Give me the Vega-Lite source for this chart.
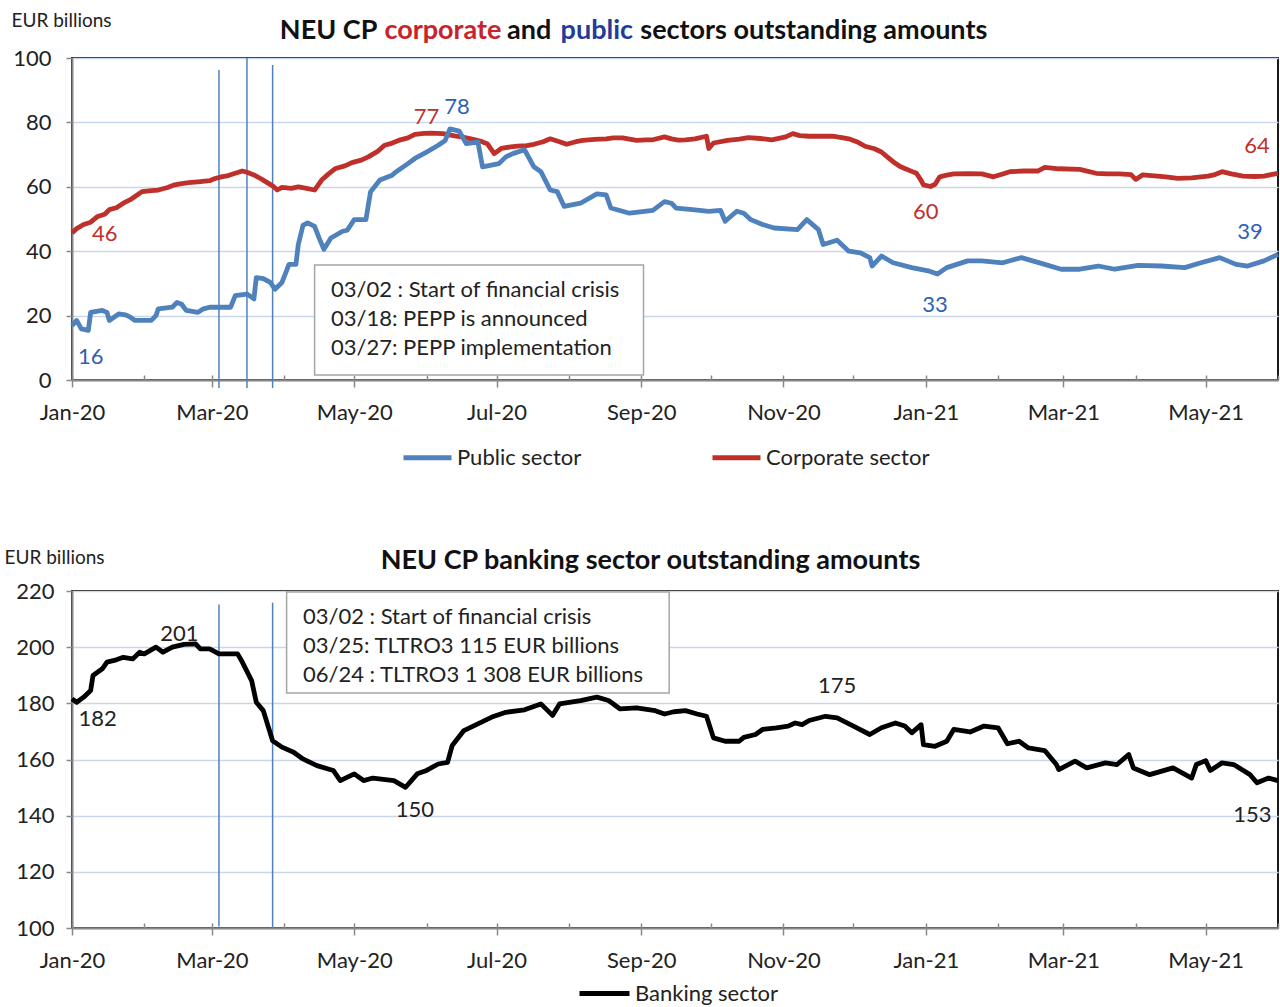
{
  "$schema": "https://vega.github.io/schema/vega-lite/v6.json",
  "background": "white",
  "padding": {"left": 3, "top": 10, "right": 0, "bottom": 0},
  "spacing": 72,
  "bounds": "full",
  "align": "all",
  "config": {
    "font": "Lato",
    "view": {"stroke": "#1a1a1a", "strokeWidth": 2},
    "text": {"font": "Lato"},
    "axis": {"labelFont": "Lato", "titleFont": "Lato"}
  },
  "resolve": {"scale": {"color": "independent", "x": "independent", "y": "independent"}, "legend": {"color": "independent"}},
  "datasets": {
    "top_series": [
      {"date":"2020-01-01","series":"Corporate sector","value":45.7},
      {"date":"2020-01-03","series":"Corporate sector","value":47.0},
      {"date":"2020-01-06","series":"Corporate sector","value":48.3},
      {"date":"2020-01-09","series":"Corporate sector","value":49.0},
      {"date":"2020-01-12","series":"Corporate sector","value":50.8},
      {"date":"2020-01-15","series":"Corporate sector","value":51.5},
      {"date":"2020-01-17","series":"Corporate sector","value":52.9},
      {"date":"2020-01-20","series":"Corporate sector","value":53.5},
      {"date":"2020-01-23","series":"Corporate sector","value":54.9},
      {"date":"2020-01-26","series":"Corporate sector","value":56.0},
      {"date":"2020-01-28","series":"Corporate sector","value":57.0},
      {"date":"2020-01-31","series":"Corporate sector","value":58.5},
      {"date":"2020-02-04","series":"Corporate sector","value":58.8},
      {"date":"2020-02-07","series":"Corporate sector","value":59.0},
      {"date":"2020-02-11","series":"Corporate sector","value":59.8},
      {"date":"2020-02-14","series":"Corporate sector","value":60.6},
      {"date":"2020-02-17","series":"Corporate sector","value":61.0},
      {"date":"2020-02-20","series":"Corporate sector","value":61.3},
      {"date":"2020-02-25","series":"Corporate sector","value":61.6},
      {"date":"2020-02-29","series":"Corporate sector","value":61.9},
      {"date":"2020-03-02","series":"Corporate sector","value":62.5},
      {"date":"2020-03-05","series":"Corporate sector","value":63.1},
      {"date":"2020-03-08","series":"Corporate sector","value":63.5},
      {"date":"2020-03-10","series":"Corporate sector","value":64.0},
      {"date":"2020-03-14","series":"Corporate sector","value":64.9},
      {"date":"2020-03-16","series":"Corporate sector","value":64.5},
      {"date":"2020-03-19","series":"Corporate sector","value":63.7},
      {"date":"2020-03-22","series":"Corporate sector","value":62.5},
      {"date":"2020-03-24","series":"Corporate sector","value":61.6},
      {"date":"2020-03-27","series":"Corporate sector","value":60.3},
      {"date":"2020-03-29","series":"Corporate sector","value":59.0},
      {"date":"2020-03-31","series":"Corporate sector","value":59.8},
      {"date":"2020-04-04","series":"Corporate sector","value":59.5},
      {"date":"2020-04-07","series":"Corporate sector","value":60.0},
      {"date":"2020-04-10","series":"Corporate sector","value":59.6},
      {"date":"2020-04-14","series":"Corporate sector","value":59.0},
      {"date":"2020-04-17","series":"Corporate sector","value":62.1},
      {"date":"2020-04-20","series":"Corporate sector","value":64.0},
      {"date":"2020-04-23","series":"Corporate sector","value":65.7},
      {"date":"2020-04-27","series":"Corporate sector","value":66.5},
      {"date":"2020-04-30","series":"Corporate sector","value":67.5},
      {"date":"2020-05-04","series":"Corporate sector","value":68.3},
      {"date":"2020-05-07","series":"Corporate sector","value":69.3},
      {"date":"2020-05-11","series":"Corporate sector","value":71.0},
      {"date":"2020-05-14","series":"Corporate sector","value":72.9},
      {"date":"2020-05-17","series":"Corporate sector","value":73.5},
      {"date":"2020-05-20","series":"Corporate sector","value":74.4},
      {"date":"2020-05-24","series":"Corporate sector","value":75.2},
      {"date":"2020-05-27","series":"Corporate sector","value":76.3},
      {"date":"2020-05-31","series":"Corporate sector","value":76.6},
      {"date":"2020-06-03","series":"Corporate sector","value":76.7},
      {"date":"2020-06-08","series":"Corporate sector","value":76.5},
      {"date":"2020-06-13","series":"Corporate sector","value":75.8},
      {"date":"2020-06-16","series":"Corporate sector","value":75.5},
      {"date":"2020-06-20","series":"Corporate sector","value":74.9},
      {"date":"2020-06-24","series":"Corporate sector","value":74.2},
      {"date":"2020-06-27","series":"Corporate sector","value":73.4},
      {"date":"2020-06-30","series":"Corporate sector","value":70.3},
      {"date":"2020-07-03","series":"Corporate sector","value":71.9},
      {"date":"2020-07-07","series":"Corporate sector","value":72.4},
      {"date":"2020-07-10","series":"Corporate sector","value":72.6},
      {"date":"2020-07-14","series":"Corporate sector","value":72.8},
      {"date":"2020-07-17","series":"Corporate sector","value":73.2},
      {"date":"2020-07-21","series":"Corporate sector","value":74.0},
      {"date":"2020-07-24","series":"Corporate sector","value":74.9},
      {"date":"2020-07-28","series":"Corporate sector","value":74.0},
      {"date":"2020-07-31","series":"Corporate sector","value":73.2},
      {"date":"2020-08-04","series":"Corporate sector","value":74.0},
      {"date":"2020-08-07","series":"Corporate sector","value":74.4},
      {"date":"2020-08-12","series":"Corporate sector","value":74.7},
      {"date":"2020-08-17","series":"Corporate sector","value":74.9},
      {"date":"2020-08-20","series":"Corporate sector","value":75.2},
      {"date":"2020-08-24","series":"Corporate sector","value":75.2},
      {"date":"2020-08-30","series":"Corporate sector","value":74.4},
      {"date":"2020-09-03","series":"Corporate sector","value":74.6},
      {"date":"2020-09-06","series":"Corporate sector","value":74.6},
      {"date":"2020-09-11","series":"Corporate sector","value":75.5},
      {"date":"2020-09-14","series":"Corporate sector","value":74.9},
      {"date":"2020-09-17","series":"Corporate sector","value":74.5},
      {"date":"2020-09-20","series":"Corporate sector","value":74.6},
      {"date":"2020-09-24","series":"Corporate sector","value":74.9},
      {"date":"2020-09-29","series":"Corporate sector","value":75.7},
      {"date":"2020-09-30","series":"Corporate sector","value":71.9},
      {"date":"2020-10-02","series":"Corporate sector","value":73.6},
      {"date":"2020-10-08","series":"Corporate sector","value":74.4},
      {"date":"2020-10-13","series":"Corporate sector","value":74.8},
      {"date":"2020-10-17","series":"Corporate sector","value":75.3},
      {"date":"2020-10-22","series":"Corporate sector","value":75.0},
      {"date":"2020-10-27","series":"Corporate sector","value":74.6},
      {"date":"2020-11-02","series":"Corporate sector","value":75.5},
      {"date":"2020-11-05","series":"Corporate sector","value":76.5},
      {"date":"2020-11-08","series":"Corporate sector","value":75.9},
      {"date":"2020-11-12","series":"Corporate sector","value":75.7},
      {"date":"2020-11-17","series":"Corporate sector","value":75.7},
      {"date":"2020-11-22","series":"Corporate sector","value":75.7},
      {"date":"2020-11-26","series":"Corporate sector","value":75.3},
      {"date":"2020-11-29","series":"Corporate sector","value":74.9},
      {"date":"2020-12-03","series":"Corporate sector","value":73.8},
      {"date":"2020-12-06","series":"Corporate sector","value":72.6},
      {"date":"2020-12-10","series":"Corporate sector","value":71.8},
      {"date":"2020-12-13","series":"Corporate sector","value":70.8},
      {"date":"2020-12-16","series":"Corporate sector","value":69.0},
      {"date":"2020-12-18","series":"Corporate sector","value":67.8},
      {"date":"2020-12-21","series":"Corporate sector","value":66.3},
      {"date":"2020-12-23","series":"Corporate sector","value":65.7},
      {"date":"2020-12-26","series":"Corporate sector","value":64.8},
      {"date":"2020-12-28","series":"Corporate sector","value":64.2},
      {"date":"2020-12-30","series":"Corporate sector","value":62.0},
      {"date":"2020-12-31","series":"Corporate sector","value":60.6},
      {"date":"2021-01-03","series":"Corporate sector","value":60.1},
      {"date":"2021-01-05","series":"Corporate sector","value":60.8},
      {"date":"2021-01-07","series":"Corporate sector","value":63.1},
      {"date":"2021-01-10","series":"Corporate sector","value":63.6},
      {"date":"2021-01-13","series":"Corporate sector","value":64.0},
      {"date":"2021-01-19","series":"Corporate sector","value":64.1},
      {"date":"2021-01-25","series":"Corporate sector","value":64.0},
      {"date":"2021-01-30","series":"Corporate sector","value":63.1},
      {"date":"2021-02-03","series":"Corporate sector","value":64.0},
      {"date":"2021-02-06","series":"Corporate sector","value":64.7},
      {"date":"2021-02-12","series":"Corporate sector","value":64.9},
      {"date":"2021-02-18","series":"Corporate sector","value":64.9},
      {"date":"2021-02-21","series":"Corporate sector","value":66.0},
      {"date":"2021-02-27","series":"Corporate sector","value":65.6},
      {"date":"2021-03-08","series":"Corporate sector","value":65.4},
      {"date":"2021-03-15","series":"Corporate sector","value":64.2},
      {"date":"2021-03-20","series":"Corporate sector","value":64.0},
      {"date":"2021-03-25","series":"Corporate sector","value":64.0},
      {"date":"2021-03-30","series":"Corporate sector","value":63.8},
      {"date":"2021-04-01","series":"Corporate sector","value":62.3},
      {"date":"2021-04-04","series":"Corporate sector","value":63.7},
      {"date":"2021-04-09","series":"Corporate sector","value":63.4},
      {"date":"2021-04-14","series":"Corporate sector","value":63.1},
      {"date":"2021-04-19","series":"Corporate sector","value":62.6},
      {"date":"2021-04-25","series":"Corporate sector","value":62.8},
      {"date":"2021-05-02","series":"Corporate sector","value":63.3},
      {"date":"2021-05-05","series":"Corporate sector","value":63.8},
      {"date":"2021-05-08","series":"Corporate sector","value":64.7},
      {"date":"2021-05-12","series":"Corporate sector","value":64.0},
      {"date":"2021-05-17","series":"Corporate sector","value":63.3},
      {"date":"2021-05-22","series":"Corporate sector","value":63.2},
      {"date":"2021-05-26","series":"Corporate sector","value":63.3},
      {"date":"2021-05-29","series":"Corporate sector","value":63.8},
      {"date":"2021-06-01","series":"Corporate sector","value":64.2},
      {"date":"2020-01-01","series":"Public sector","value":16.9},
      {"date":"2020-01-03","series":"Public sector","value":18.5},
      {"date":"2020-01-05","series":"Public sector","value":15.9},
      {"date":"2020-01-08","series":"Public sector","value":15.4},
      {"date":"2020-01-09","series":"Public sector","value":21.0},
      {"date":"2020-01-14","series":"Public sector","value":21.6},
      {"date":"2020-01-16","series":"Public sector","value":21.0},
      {"date":"2020-01-17","series":"Public sector","value":18.5},
      {"date":"2020-01-21","series":"Public sector","value":20.5},
      {"date":"2020-01-24","series":"Public sector","value":20.2},
      {"date":"2020-01-26","series":"Public sector","value":19.5},
      {"date":"2020-01-28","series":"Public sector","value":18.5},
      {"date":"2020-02-04","series":"Public sector","value":18.5},
      {"date":"2020-02-06","series":"Public sector","value":20.0},
      {"date":"2020-02-07","series":"Public sector","value":22.1},
      {"date":"2020-02-13","series":"Public sector","value":22.6},
      {"date":"2020-02-15","series":"Public sector","value":24.1},
      {"date":"2020-02-17","series":"Public sector","value":23.5},
      {"date":"2020-02-19","series":"Public sector","value":21.6},
      {"date":"2020-02-24","series":"Public sector","value":21.0},
      {"date":"2020-02-26","series":"Public sector","value":22.0},
      {"date":"2020-02-29","series":"Public sector","value":22.6},
      {"date":"2020-03-09","series":"Public sector","value":22.6},
      {"date":"2020-03-11","series":"Public sector","value":26.2},
      {"date":"2020-03-16","series":"Public sector","value":26.7},
      {"date":"2020-03-19","series":"Public sector","value":25.2},
      {"date":"2020-03-20","series":"Public sector","value":31.8},
      {"date":"2020-03-23","series":"Public sector","value":31.5},
      {"date":"2020-03-26","series":"Public sector","value":30.3},
      {"date":"2020-03-28","series":"Public sector","value":28.2},
      {"date":"2020-03-31","series":"Public sector","value":30.3},
      {"date":"2020-04-02","series":"Public sector","value":34.0},
      {"date":"2020-04-03","series":"Public sector","value":35.9},
      {"date":"2020-04-06","series":"Public sector","value":35.9},
      {"date":"2020-04-07","series":"Public sector","value":42.0},
      {"date":"2020-04-09","series":"Public sector","value":48.0},
      {"date":"2020-04-11","series":"Public sector","value":48.8},
      {"date":"2020-04-14","series":"Public sector","value":47.7},
      {"date":"2020-04-16","series":"Public sector","value":44.0},
      {"date":"2020-04-18","series":"Public sector","value":40.6},
      {"date":"2020-04-21","series":"Public sector","value":44.1},
      {"date":"2020-04-26","series":"Public sector","value":46.2},
      {"date":"2020-04-28","series":"Public sector","value":46.5},
      {"date":"2020-05-01","series":"Public sector","value":49.8},
      {"date":"2020-05-06","series":"Public sector","value":49.8},
      {"date":"2020-05-08","series":"Public sector","value":58.5},
      {"date":"2020-05-12","series":"Public sector","value":62.1},
      {"date":"2020-05-17","series":"Public sector","value":63.5},
      {"date":"2020-05-19","series":"Public sector","value":64.7},
      {"date":"2020-05-24","series":"Public sector","value":67.2},
      {"date":"2020-05-27","series":"Public sector","value":68.8},
      {"date":"2020-06-01","series":"Public sector","value":70.8},
      {"date":"2020-06-06","series":"Public sector","value":72.9},
      {"date":"2020-06-09","series":"Public sector","value":74.4},
      {"date":"2020-06-11","series":"Public sector","value":78.0},
      {"date":"2020-06-15","series":"Public sector","value":77.3},
      {"date":"2020-06-18","series":"Public sector","value":73.4},
      {"date":"2020-06-23","series":"Public sector","value":73.9},
      {"date":"2020-06-25","series":"Public sector","value":66.2},
      {"date":"2020-07-02","series":"Public sector","value":67.2},
      {"date":"2020-07-05","series":"Public sector","value":69.3},
      {"date":"2020-07-08","series":"Public sector","value":70.3},
      {"date":"2020-07-13","series":"Public sector","value":71.5},
      {"date":"2020-07-17","series":"Public sector","value":66.2},
      {"date":"2020-07-20","series":"Public sector","value":64.7},
      {"date":"2020-07-24","series":"Public sector","value":59.0},
      {"date":"2020-07-27","series":"Public sector","value":58.5},
      {"date":"2020-07-30","series":"Public sector","value":53.9},
      {"date":"2020-08-06","series":"Public sector","value":54.9},
      {"date":"2020-08-13","series":"Public sector","value":57.8},
      {"date":"2020-08-17","series":"Public sector","value":57.5},
      {"date":"2020-08-19","series":"Public sector","value":53.4},
      {"date":"2020-08-27","series":"Public sector","value":51.8},
      {"date":"2020-09-06","series":"Public sector","value":52.7},
      {"date":"2020-09-11","series":"Public sector","value":55.4},
      {"date":"2020-09-14","series":"Public sector","value":54.9},
      {"date":"2020-09-16","series":"Public sector","value":53.4},
      {"date":"2020-09-23","series":"Public sector","value":52.9},
      {"date":"2020-09-30","series":"Public sector","value":52.4},
      {"date":"2020-10-05","series":"Public sector","value":52.7},
      {"date":"2020-10-07","series":"Public sector","value":49.3},
      {"date":"2020-10-12","series":"Public sector","value":52.4},
      {"date":"2020-10-15","series":"Public sector","value":51.8},
      {"date":"2020-10-18","series":"Public sector","value":49.8},
      {"date":"2020-10-23","series":"Public sector","value":48.3},
      {"date":"2020-10-28","series":"Public sector","value":47.2},
      {"date":"2020-11-07","series":"Public sector","value":46.7},
      {"date":"2020-11-11","series":"Public sector","value":49.8},
      {"date":"2020-11-16","series":"Public sector","value":46.7},
      {"date":"2020-11-18","series":"Public sector","value":42.1},
      {"date":"2020-11-24","series":"Public sector","value":43.4},
      {"date":"2020-11-29","series":"Public sector","value":40.0},
      {"date":"2020-12-04","series":"Public sector","value":39.5},
      {"date":"2020-12-08","series":"Public sector","value":38.0},
      {"date":"2020-12-09","series":"Public sector","value":35.4},
      {"date":"2020-12-13","series":"Public sector","value":38.5},
      {"date":"2020-12-18","series":"Public sector","value":36.4},
      {"date":"2020-12-26","series":"Public sector","value":34.9},
      {"date":"2021-01-02","series":"Public sector","value":33.9},
      {"date":"2021-01-06","series":"Public sector","value":32.9},
      {"date":"2021-01-10","series":"Public sector","value":34.9},
      {"date":"2021-01-19","series":"Public sector","value":37.0},
      {"date":"2021-01-25","series":"Public sector","value":37.0},
      {"date":"2021-02-03","series":"Public sector","value":36.4},
      {"date":"2021-02-11","series":"Public sector","value":38.0},
      {"date":"2021-02-21","series":"Public sector","value":35.9},
      {"date":"2021-02-28","series":"Public sector","value":34.4},
      {"date":"2021-03-08","series":"Public sector","value":34.4},
      {"date":"2021-03-16","series":"Public sector","value":35.4},
      {"date":"2021-03-23","series":"Public sector","value":34.4},
      {"date":"2021-04-02","series":"Public sector","value":35.6},
      {"date":"2021-04-12","series":"Public sector","value":35.4},
      {"date":"2021-04-22","series":"Public sector","value":34.9},
      {"date":"2021-04-29","series":"Public sector","value":36.4},
      {"date":"2021-05-07","series":"Public sector","value":38.0},
      {"date":"2021-05-14","series":"Public sector","value":35.9},
      {"date":"2021-05-19","series":"Public sector","value":35.4},
      {"date":"2021-05-26","series":"Public sector","value":37.0},
      {"date":"2021-06-01","series":"Public sector","value":39.0}
    ],
    "bank_series": [
      {"date":"2020-01-01","series":"Banking sector","value":181.6},
      {"date":"2020-01-03","series":"Banking sector","value":180.4},
      {"date":"2020-01-06","series":"Banking sector","value":182.2},
      {"date":"2020-01-09","series":"Banking sector","value":184.6},
      {"date":"2020-01-10","series":"Banking sector","value":189.9},
      {"date":"2020-01-14","series":"Banking sector","value":192.3},
      {"date":"2020-01-16","series":"Banking sector","value":194.7},
      {"date":"2020-01-20","series":"Banking sector","value":195.5},
      {"date":"2020-01-23","series":"Banking sector","value":196.4},
      {"date":"2020-01-27","series":"Banking sector","value":195.8},
      {"date":"2020-01-30","series":"Banking sector","value":198.2},
      {"date":"2020-02-01","series":"Banking sector","value":197.6},
      {"date":"2020-02-06","series":"Banking sector","value":200.0},
      {"date":"2020-02-09","series":"Banking sector","value":198.2},
      {"date":"2020-02-13","series":"Banking sector","value":200.0},
      {"date":"2020-02-18","series":"Banking sector","value":201.0},
      {"date":"2020-02-23","series":"Banking sector","value":201.2},
      {"date":"2020-02-25","series":"Banking sector","value":199.4},
      {"date":"2020-02-29","series":"Banking sector","value":199.4},
      {"date":"2020-03-04","series":"Banking sector","value":197.6},
      {"date":"2020-03-12","series":"Banking sector","value":197.6},
      {"date":"2020-03-14","series":"Banking sector","value":194.7},
      {"date":"2020-03-18","series":"Banking sector","value":188.1},
      {"date":"2020-03-20","series":"Banking sector","value":180.4},
      {"date":"2020-03-23","series":"Banking sector","value":177.4},
      {"date":"2020-03-27","series":"Banking sector","value":166.7},
      {"date":"2020-03-31","series":"Banking sector","value":164.4},
      {"date":"2020-04-05","series":"Banking sector","value":162.6},
      {"date":"2020-04-09","series":"Banking sector","value":160.2},
      {"date":"2020-04-15","series":"Banking sector","value":157.8},
      {"date":"2020-04-22","series":"Banking sector","value":156.1},
      {"date":"2020-04-25","series":"Banking sector","value":152.5},
      {"date":"2020-05-01","series":"Banking sector","value":154.9},
      {"date":"2020-05-05","series":"Banking sector","value":152.5},
      {"date":"2020-05-09","series":"Banking sector","value":153.4},
      {"date":"2020-05-18","series":"Banking sector","value":152.5},
      {"date":"2020-05-23","series":"Banking sector","value":150.1},
      {"date":"2020-05-28","series":"Banking sector","value":154.9},
      {"date":"2020-06-01","series":"Banking sector","value":156.1},
      {"date":"2020-06-06","series":"Banking sector","value":158.4},
      {"date":"2020-06-10","series":"Banking sector","value":159.0},
      {"date":"2020-06-12","series":"Banking sector","value":165.0},
      {"date":"2020-06-17","series":"Banking sector","value":170.3},
      {"date":"2020-06-23","series":"Banking sector","value":172.7},
      {"date":"2020-06-29","series":"Banking sector","value":175.1},
      {"date":"2020-07-05","series":"Banking sector","value":176.8},
      {"date":"2020-07-13","series":"Banking sector","value":177.7},
      {"date":"2020-07-20","series":"Banking sector","value":179.8},
      {"date":"2020-07-25","series":"Banking sector","value":175.7},
      {"date":"2020-07-28","series":"Banking sector","value":179.8},
      {"date":"2020-08-06","series":"Banking sector","value":181.0},
      {"date":"2020-08-13","series":"Banking sector","value":182.2},
      {"date":"2020-08-18","series":"Banking sector","value":181.0},
      {"date":"2020-08-23","series":"Banking sector","value":178.0},
      {"date":"2020-08-30","series":"Banking sector","value":178.4},
      {"date":"2020-09-07","series":"Banking sector","value":177.4},
      {"date":"2020-09-11","series":"Banking sector","value":176.2},
      {"date":"2020-09-15","series":"Banking sector","value":177.0},
      {"date":"2020-09-20","series":"Banking sector","value":177.4},
      {"date":"2020-09-25","series":"Banking sector","value":176.2},
      {"date":"2020-09-29","series":"Banking sector","value":175.4},
      {"date":"2020-10-02","series":"Banking sector","value":167.7},
      {"date":"2020-10-07","series":"Banking sector","value":166.5},
      {"date":"2020-10-13","series":"Banking sector","value":166.5},
      {"date":"2020-10-15","series":"Banking sector","value":167.9},
      {"date":"2020-10-20","series":"Banking sector","value":168.9},
      {"date":"2020-10-23","series":"Banking sector","value":170.7},
      {"date":"2020-10-29","series":"Banking sector","value":171.3},
      {"date":"2020-11-03","series":"Banking sector","value":171.9},
      {"date":"2020-11-06","series":"Banking sector","value":173.0},
      {"date":"2020-11-09","series":"Banking sector","value":172.4},
      {"date":"2020-11-12","series":"Banking sector","value":173.9},
      {"date":"2020-11-19","series":"Banking sector","value":175.4},
      {"date":"2020-11-24","series":"Banking sector","value":174.8},
      {"date":"2020-12-01","series":"Banking sector","value":171.9},
      {"date":"2020-12-08","series":"Banking sector","value":168.9},
      {"date":"2020-12-13","series":"Banking sector","value":171.3},
      {"date":"2020-12-19","series":"Banking sector","value":173.0},
      {"date":"2020-12-23","series":"Banking sector","value":171.9},
      {"date":"2020-12-26","series":"Banking sector","value":169.5},
      {"date":"2020-12-30","series":"Banking sector","value":172.4},
      {"date":"2020-12-31","series":"Banking sector","value":165.3},
      {"date":"2021-01-05","series":"Banking sector","value":164.7},
      {"date":"2021-01-10","series":"Banking sector","value":166.5},
      {"date":"2021-01-13","series":"Banking sector","value":170.7},
      {"date":"2021-01-20","series":"Banking sector","value":169.8},
      {"date":"2021-01-26","series":"Banking sector","value":171.9},
      {"date":"2021-02-01","series":"Banking sector","value":171.3},
      {"date":"2021-02-05","series":"Banking sector","value":165.6},
      {"date":"2021-02-10","series":"Banking sector","value":166.5},
      {"date":"2021-02-14","series":"Banking sector","value":164.1},
      {"date":"2021-02-21","series":"Banking sector","value":163.2},
      {"date":"2021-02-26","series":"Banking sector","value":158.2},
      {"date":"2021-02-27","series":"Banking sector","value":156.4},
      {"date":"2021-03-06","series":"Banking sector","value":159.4},
      {"date":"2021-03-11","series":"Banking sector","value":157.0},
      {"date":"2021-03-19","series":"Banking sector","value":158.8},
      {"date":"2021-03-24","series":"Banking sector","value":158.2},
      {"date":"2021-03-29","series":"Banking sector","value":161.8},
      {"date":"2021-03-31","series":"Banking sector","value":157.0},
      {"date":"2021-04-07","series":"Banking sector","value":154.6},
      {"date":"2021-04-17","series":"Banking sector","value":157.0},
      {"date":"2021-04-25","series":"Banking sector","value":153.4},
      {"date":"2021-04-27","series":"Banking sector","value":158.2},
      {"date":"2021-05-01","series":"Banking sector","value":159.6},
      {"date":"2021-05-03","series":"Banking sector","value":156.1},
      {"date":"2021-05-08","series":"Banking sector","value":158.8},
      {"date":"2021-05-13","series":"Banking sector","value":158.2},
      {"date":"2021-05-20","series":"Banking sector","value":154.6},
      {"date":"2021-05-23","series":"Banking sector","value":151.7},
      {"date":"2021-05-28","series":"Banking sector","value":153.4},
      {"date":"2021-06-01","series":"Banking sector","value":152.5}
    ],
    "top_vlines": [
      {"date":"2020-03-04","value":96.3,"value2":-2.5},
      {"date":"2020-03-16","value":100,"value2":-2.5},
      {"date":"2020-03-27","value":97.8,"value2":-2.5}
    ],
    "bot_vlines": [
      {"date":"2020-03-04","value":215.2,"value2":100.5},
      {"date":"2020-03-27","value":215.8,"value2":100}
    ],
    "top_box": [{"date":"2020-04-14","date2":"2020-09-02","value":1.55,"value2":35.7}],
    "bot_box": [{"date":"2020-04-02","date2":"2020-09-13","value":183.7,"value2":219.6}],
    "top_boxtext": [
      {"date":"2020-04-21","value":27.95,"text":"03/02 : Start of financial crisis"},
      {"date":"2020-04-21","value":18.9,"text":"03/18: PEPP is announced"},
      {"date":"2020-04-21","value":9.9,"text":"03/27: PEPP implementation"}
    ],
    "bot_boxtext": [
      {"date":"2020-04-09","value":210.7,"text":"03/02 : Start of financial crisis"},
      {"date":"2020-04-09","value":200.4,"text":"03/25: TLTRO3  115 EUR billions"},
      {"date":"2020-04-09","value":190.1,"text":"06/24 : TLTRO3  1 308 EUR billions"}
    ],
    "top_labels": [
      {"date":"2020-06-01","value":81.7,"label":"77","series":"Corporate sector"},
      {"date":"2020-06-14","value":84.8,"label":"78","series":"Public sector"},
      {"date":"2020-01-15","value":45.3,"label":"46","series":"Corporate sector"},
      {"date":"2020-01-09","value":7.1,"label":"16","series":"Public sector"},
      {"date":"2021-01-01","value":52.2,"label":"60","series":"Corporate sector"},
      {"date":"2021-01-05","value":23.3,"label":"33","series":"Public sector"},
      {"date":"2021-05-23","value":72.7,"label":"64","series":"Corporate sector"},
      {"date":"2021-05-20","value":46.0,"label":"39","series":"Public sector"}
    ],
    "bot_labels": [
      {"date":"2020-02-16","value":204.7,"label":"201"},
      {"date":"2020-01-12","value":174.4,"label":"182"},
      {"date":"2020-05-27","value":142.0,"label":"150"},
      {"date":"2020-11-24","value":186.2,"label":"175"},
      {"date":"2021-05-21","value":140.2,"label":"153"}
    ],
    "top_title": [
      {"date":"2020-04-20","value":108.4,"text":"NEU CP","part":"plain"},
      {"date":"2020-06-08","value":108.4,"text":"corporate","part":"corporate"},
      {"date":"2020-07-15","value":108.4,"text":"and","part":"plain"},
      {"date":"2020-08-13","value":108.4,"text":"public","part":"public"},
      {"date":"2020-11-14","value":108.4,"text":"sectors outstanding amounts","part":"plain"}
    ],
    "bot_title": [
      {"date":"2020-09-05","value":230.7,"text":"NEU CP banking sector outstanding amounts"}
    ]
  },
  "vconcat": [
    {
      "width": 1206,
      "height": 322,
      "resolve": {"axis": {"x": "independent"}},
      "encoding": {
        "y": {"field": "value", "type": "quantitative",
          "scale": {"domain": [0, 100], "nice": false, "zero": false},
          "axis": {"title": "EUR billions", "titleAngle": 0, "titleAlign": "left", "titleBaseline": "middle", "titleX": -61, "titleY": -38, "titleFontSize": 19, "titleFontWeight": "normal", "titleColor": "#222222", "values": [0, 20, 40, 60, 80, 100], "labelFontSize": 22, "labelColor": "#222222", "tickSize": 6, "tickColor": "#888888", "tickWidth": 1.5, "domainColor": "#888888", "domainWidth": 2, "gridColor": "#c9d7ea", "gridWidth": 1.5, "grid": true, "labelPadding": 15}}
      },
      "layer": [
        {
          "data": {"name": "top_box"},
          "mark": {"type": "rect", "fill": "white", "stroke": "#a6a6a6", "strokeWidth": 1.5},
          "encoding": {
            "x": {"field": "date", "type": "temporal",
              "axis": {"orient": "bottom", "title": null, "labels": false, "domain": false, "grid": false, "tickCount": {"interval": "month", "step": 1}, "tickSize": -5, "tickColor": "#888888", "tickWidth": 1.5}},
            "x2": {"field": "date2"},
            "y2": {"field": "value2"}
          }
        },
        {
          "data": {"name": "top_boxtext"},
          "mark": {"type": "text", "align": "left", "baseline": "middle", "fontSize": 22, "color": "#222222"},
          "encoding": {
            "x": {"field": "date", "type": "temporal", "axis": null},
            "text": {"field": "text"}
          }
        },
        {
          "data": {"name": "top_vlines"},
          "mark": {"type": "rule", "color": "#4f81bd", "strokeWidth": 1.5},
          "encoding": {
            "x": {"field": "date", "type": "temporal", "axis": null},
            "y2": {"field": "value2"}
          }
        },
        {
          "data": {"name": "top_series"},
          "mark": {"type": "line", "strokeWidth": 4.8, "strokeJoin": "round"},
          "encoding": {
            "x": {"field": "date", "type": "temporal",
              "scale": {"type": "utc", "domain": [{"year": 2020, "month": 1, "date": 1, "utc": true}, {"year": 2021, "month": 6, "date": 1, "utc": true}], "nice": false},
              "axis": {"orient": "bottom", "title": null, "format": "%b-%y", "tickCount": {"interval": "month", "step": 2}, "labelFontSize": 22, "labelColor": "#222222", "tickColor": "#888888", "tickSize": 7, "tickWidth": 1.5, "domainColor": "#888888", "domainWidth": 2, "labelPadding": 15, "grid": false, "labelFlush": false, "labelOverlap": false}},
            "color": {"field": "series", "type": "nominal",
              "scale": {"domain": ["Public sector", "Corporate sector"], "range": ["#4f81bd", "#c0302b"]},
              "legend": {"orient": "none", "legendX": 329, "legendY": 373, "direction": "horizontal", "title": null, "symbolType": "stroke", "symbolSize": 2304, "symbolStrokeWidth": 5, "labelFontSize": 22, "labelColor": "#222222", "labelLimit": 400, "columnPadding": 120, "labelOffset": 3}}
          }
        },
        {
          "data": {"name": "top_labels"},
          "mark": {"type": "text", "align": "center", "baseline": "middle", "fontSize": 22},
          "encoding": {
            "x": {"field": "date", "type": "temporal", "axis": null},
            "text": {"field": "label"},
            "color": {"condition": {"test": "datum.series === 'Corporate sector'", "value": "#c0302b"}, "value": "#2f5fb3"}
          }
        },
        {
          "data": {"name": "top_title"},
          "mark": {"type": "text", "align": "center", "baseline": "middle", "fontSize": 27, "fontWeight": "bold"},
          "encoding": {
            "x": {"field": "date", "type": "temporal", "axis": null},
            "text": {"field": "text"},
            "color": {"condition": [{"test": "datum.part === 'corporate'", "value": "#c8232c"}, {"test": "datum.part === 'public'", "value": "#1f3c9b"}], "value": "#111111"}
          }
        }
      ]
    },
    {
      "width": 1206,
      "height": 337,
      "resolve": {"axis": {"x": "independent"}},
      "encoding": {
        "y": {"field": "value", "type": "quantitative",
          "scale": {"domain": [100, 220], "nice": false, "zero": false},
          "axis": {"title": "EUR billions", "titleAngle": 0, "titleAlign": "left", "titleBaseline": "middle", "titleX": -68, "titleY": -34, "titleFontSize": 19, "titleFontWeight": "normal", "titleColor": "#222222", "values": [100, 120, 140, 160, 180, 200, 220], "labelFontSize": 22, "labelColor": "#222222", "tickSize": 6, "tickColor": "#888888", "tickWidth": 1.5, "domainColor": "#888888", "domainWidth": 2, "gridColor": "#c9d7ea", "gridWidth": 1.5, "grid": true, "labelPadding": 12}}
      },
      "layer": [
        {
          "data": {"name": "bot_box"},
          "mark": {"type": "rect", "fill": "white", "stroke": "#a6a6a6", "strokeWidth": 1.5},
          "encoding": {
            "x": {"field": "date", "type": "temporal",
              "axis": {"orient": "bottom", "title": null, "labels": false, "domain": false, "grid": false, "tickCount": {"interval": "month", "step": 1}, "tickSize": -5, "tickColor": "#888888", "tickWidth": 1.5}},
            "x2": {"field": "date2"},
            "y2": {"field": "value2"}
          }
        },
        {
          "data": {"name": "bot_boxtext"},
          "mark": {"type": "text", "align": "left", "baseline": "middle", "fontSize": 22, "color": "#222222"},
          "encoding": {
            "x": {"field": "date", "type": "temporal", "axis": null},
            "text": {"field": "text"}
          }
        },
        {
          "data": {"name": "bot_vlines"},
          "mark": {"type": "rule", "color": "#4f81bd", "strokeWidth": 1.5},
          "encoding": {
            "x": {"field": "date", "type": "temporal", "axis": null},
            "y2": {"field": "value2"}
          }
        },
        {
          "data": {"name": "bank_series"},
          "mark": {"type": "line", "strokeWidth": 4.8, "strokeJoin": "round"},
          "encoding": {
            "x": {"field": "date", "type": "temporal",
              "scale": {"type": "utc", "domain": [{"year": 2020, "month": 1, "date": 1, "utc": true}, {"year": 2021, "month": 6, "date": 1, "utc": true}], "nice": false},
              "axis": {"orient": "bottom", "title": null, "format": "%b-%y", "tickCount": {"interval": "month", "step": 2}, "labelFontSize": 22, "labelColor": "#222222", "tickColor": "#888888", "tickSize": 7, "tickWidth": 1.5, "domainColor": "#888888", "domainWidth": 2, "labelPadding": 15, "grid": false, "labelFlush": false, "labelOverlap": false}},
            "color": {"field": "series", "type": "nominal",
              "scale": {"domain": ["Banking sector"], "range": ["#000000"]},
              "legend": {"orient": "none", "legendX": 505, "legendY": 375, "direction": "horizontal", "title": null, "symbolType": "stroke", "symbolSize": 2500, "symbolStrokeWidth": 5, "labelFontSize": 22, "labelColor": "#222222", "labelLimit": 400, "labelOffset": 3}}
          }
        },
        {
          "data": {"name": "bot_labels"},
          "mark": {"type": "text", "align": "center", "baseline": "middle", "fontSize": 22, "color": "#222222"},
          "encoding": {
            "x": {"field": "date", "type": "temporal", "axis": null},
            "text": {"field": "label"}
          }
        },
        {
          "data": {"name": "bot_title"},
          "mark": {"type": "text", "align": "center", "baseline": "middle", "fontSize": 27, "fontWeight": "bold", "color": "#111111"},
          "encoding": {
            "x": {"field": "date", "type": "temporal", "axis": null},
            "text": {"field": "text"}
          }
        }
      ]
    }
  ]
}
